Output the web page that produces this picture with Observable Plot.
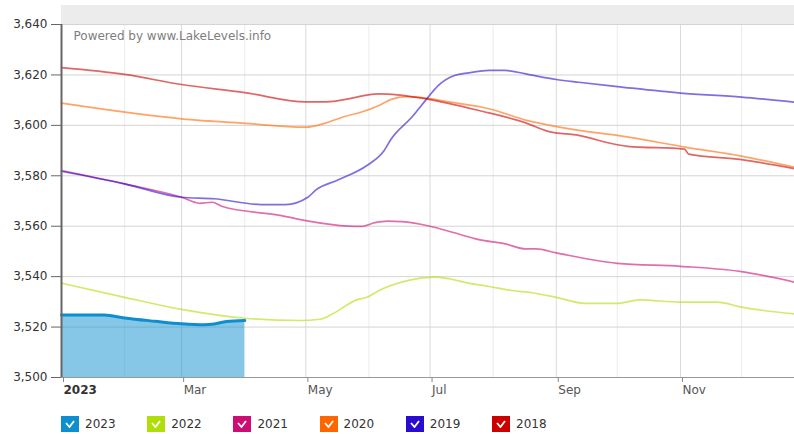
<!DOCTYPE html>
<html>
<head>
<meta charset="utf-8">
<script src="https://cdn.jsdelivr.net/npm/d3@7"></script>
<script src="https://cdn.jsdelivr.net/npm/@observablehq/plot@0.6"></script>
<style>
  html, body { margin: 0; padding: 0; background: #fff; }
  body { width: 794px; height: 434px; overflow: hidden; font-family: "DejaVu Sans", Verdana, sans-serif; }
  #chart svg { display: block; }
  #legend { position: relative; height: 34px; }
  .item { position: absolute; top: 16px; display: flex; align-items: center; font-size: 12px; color: #333; }
  .box { width: 18px; height: 16px; margin-right: 6px; display: flex; align-items: center; justify-content: center; }
</style>
</head>
<body>
<div id="chart"></div>
<div id="legend"></div>
<script>
// ---- data (date in the comparison year, lake level in feet) ----
const years = ["2023", "2022", "2021", "2020", "2019", "2018"];
const colors = ["#0d8ecf", "#b0de09", "#cd0d74", "#ff6600", "#2a0cd0", "#cc0000"];

const s2023 = [["2023-01-01",3524.8],["2023-01-22",3524.8],["2023-02-01",3523.6],["2023-02-16",3522.3],
  ["2023-03-01",3521.3],["2023-03-12",3520.9],["2023-03-17",3521.2],["2023-03-23",3522.2],["2023-04-01",3522.6]];

const s2022 = [["2023-01-01",3537.4],["2023-02-01",3531.8],["2023-03-01",3527.0],["2023-04-01",3523.5],
  ["2023-04-28",3522.6],["2023-05-08",3523.1],["2023-05-14",3525.2],["2023-05-26",3530.8],["2023-05-31",3531.8],
  ["2023-06-06",3534.5],["2023-06-17",3537.8],["2023-06-25",3539.2],["2023-07-03",3539.8],["2023-07-10",3539.2],
  ["2023-07-20",3537.4],["2023-07-30",3536.1],["2023-08-10",3534.5],["2023-08-20",3533.6],["2023-09-01",3531.8],
  ["2023-09-15",3529.4],["2023-10-01",3529.4],["2023-10-12",3530.8],["2023-11-01",3529.9],["2023-11-19",3529.9],
  ["2023-12-01",3527.9],["2023-12-27",3525.2]];

const s2021 = [["2023-01-01",3582.1],["2023-02-01",3576.8],["2023-03-01",3571.5],["2023-03-10",3569.1],
  ["2023-03-16",3569.5],["2023-03-21",3567.8],["2023-04-19",3564.2],["2023-05-01",3562.2],["2023-05-22",3560.0],
  ["2023-05-28",3559.9],["2023-06-04",3561.4],["2023-06-10",3562.0],["2023-06-17",3561.8],["2023-07-01",3560.0],
  ["2023-07-12",3557.6],["2023-07-25",3554.7],["2023-08-07",3553.0],["2023-08-17",3551.0],["2023-08-22",3551.0],
  ["2023-09-01",3549.4],["2023-10-01",3545.3],["2023-11-01",3544.1],["2023-12-01",3542.0],["2023-12-27",3537.8]];

const s2020 = [["2023-01-01",3608.8],["2023-03-01",3602.6],["2023-04-01",3600.8],["2023-05-01",3599.3],
  ["2023-05-11",3601.0],["2023-05-20",3603.5],["2023-05-28",3605.2],["2023-06-06",3607.9],["2023-06-12",3610.3],
  ["2023-06-19",3611.4],["2023-06-29",3610.8],["2023-07-08",3609.6],["2023-07-30",3606.6],["2023-08-18",3601.9],
  ["2023-08-29",3600.0],["2023-09-12",3598.0],["2023-10-01",3596.0],["2023-11-04",3591.3],["2023-12-01",3587.8],
  ["2023-12-27",3583.4]];

const s2019 = [["2023-01-01",3581.8],["2023-02-01",3576.8],["2023-03-01",3571.5],["2023-03-17",3570.9],
  ["2023-04-09",3568.6],["2023-04-21",3568.6],["2023-05-02",3571.5],["2023-05-06",3574.4],["2023-05-17",3578.4],
  ["2023-05-31",3584.1],["2023-06-08",3589.5],["2023-06-12",3594.7],["2023-06-22",3603.2],["2023-06-29",3610.1],
  ["2023-07-05",3615.8],["2023-07-13",3619.8],["2023-07-20",3620.8],["2023-07-30",3621.8],["2023-08-07",3621.8],
  ["2023-08-17",3620.4],["2023-09-01",3618.2],["2023-09-12",3617.1],["2023-10-01",3615.4],["2023-11-01",3612.8],
  ["2023-12-01",3611.2],["2023-12-27",3609.2]];

const s2018 = [["2023-01-01",3622.9],["2023-02-01",3620.2],["2023-03-01",3616.2],["2023-04-01",3613.0],
  ["2023-05-01",3609.3],["2023-05-11",3609.3],["2023-05-22",3610.5],["2023-05-31",3612.0],["2023-06-06",3612.5],
  ["2023-06-15",3612.1],["2023-06-29",3610.5],["2023-07-25",3605.9],["2023-08-17",3601.0],["2023-08-28",3597.6],
  ["2023-09-12",3596.0],["2023-10-01",3592.3],["2023-10-06",3591.7],["2023-11-03",3590.6],["2023-11-05",3588.6],
  ["2023-12-01",3586.4],["2023-12-27",3582.8]];

const yTicks = [3500, 3520, 3540, 3560, 3580, 3600, 3620, 3640];
const xLabelMonths = ["2023-01-01","2023-03-01","2023-05-01","2023-07-01","2023-09-01","2023-11-01"];
const xLabels = ["2023","Mar","May","Jul","Sep","Nov"];
const gridMonths = ["2023-01-01","2023-02-01","2023-03-01","2023-04-01","2023-05-01","2023-06-01",
  "2023-07-01","2023-08-01","2023-09-01","2023-10-01","2023-11-01","2023-12-01"];
const xDomain = ["2023-01-01","2023-12-27"];
const bandTop = 3647.54; // top of the grey header band above the plot

// ---- build ----
const seriesList = [s2023, s2022, s2021, s2020, s2019, s2018];
const toRows = (arr, year) => arr.map(([d, v]) => ({date: new Date(d), value: v, year}));
const rows = seriesList.map((s, i) => toRows(s, years[i]));
const yMin = yTicks[0], yMax = yTicks[yTicks.length - 1];
const dom = xDomain.map(d => new Date(d));
const labelDates = xLabelMonths.map(d => new Date(d));
const labelMap = new Map(labelDates.map((d, i) => [+d, xLabels[i]]));
const gridRows = gridMonths.map(d => ({date: new Date(d), major: labelMap.has(+new Date(d))}));

const lineMarks = [];
for (let i = 1; i < rows.length; i++) {
  lineMarks.push(Plot.line(rows[i], {x: "date", y: "value", stroke: colors[i], strokeWidth: 1.7,
    strokeOpacity: 0.6, curve: "monotone-x"}));
}

const plot = Plot.plot({
  width: 794, height: 400,
  marginLeft: 61, marginRight: 0, marginTop: 5, marginBottom: 23,
  style: {fontFamily: "DejaVu Sans, Verdana, sans-serif", fontSize: "12px", color: "#333", background: "#fff"},
  x: {type: "utc", domain: dom, label: null},
  y: {domain: [yMin, bandTop], label: null},
  marks: [
    Plot.rect([{}], {x1: () => dom[0], x2: () => dom[1], y1: () => yMax, y2: () => bandTop, fill: "#ececec"}),
    Plot.ruleX(gridRows, {x: "date", y1: yMin, y2: yMax, stroke: d => d.major ? "#dadada" : "#ececec", strokeWidth: 1}),
    Plot.ruleY(yTicks.slice(1), {y: d => d, stroke: "#d4d4d4", strokeWidth: 1}),
    Plot.text(["Powered by www.LakeLevels.info"], {x: () => dom[0], y: () => yMax, text: d => d,
      textAnchor: "start", dx: 12, dy: 12, fill: "#7e7e7e", fontSize: 12}),
    Plot.areaY(rows[0], {x: "date", y1: () => yMin, y2: "value", fill: colors[0], fillOpacity: 0.5, curve: "monotone-x"}),
    Plot.line(rows[0], {x: "date", y: "value", stroke: colors[0], strokeWidth: 3, curve: "monotone-x"}),
    ...lineMarks,
    Plot.ruleY([yMin], {stroke: "#999", strokeWidth: 1}),
    Plot.ruleX([dom[0]], {y1: yMin, y2: yMax, stroke: "#666", strokeWidth: 2}),
    Plot.axisY({ticks: yTicks, tickFormat: d3.format(","), tickSize: 10, tickPadding: 4, stroke: "#666", fill: "#333", fontSize: 12, label: null}),
    Plot.axisX({ticks: labelDates, tickFormat: d => labelMap.get(+d), tickSize: 5, tickPadding: 3,
      textAnchor: "start", dx: 2, stroke: "#888", fill: "#555", fontSize: 12, label: null})
  ]
});
document.getElementById("chart").appendChild(plot);

// bold first x label (the year)
d3.select(plot).selectAll("text").filter(function() { return this.textContent === xLabels[0]; })
  .attr("font-weight", "bold").attr("fill", "#333");

// ---- legend ----
const legend = document.getElementById("legend");
years.forEach((y, i) => {
  const item = document.createElement("div");
  item.className = "item";
  item.style.left = (61 + i * 86.2) + "px";
  item.innerHTML = `<div class="box" style="background:${colors[i]}"><svg width="10" height="8" viewBox="0 0 10 8">
    <polyline points="1,3 4.5,7 9,1" fill="none" stroke="#fff" stroke-width="1.8"/></svg></div><span>${y}</span>`;
  legend.appendChild(item);
});
</script>
</body>
</html>
